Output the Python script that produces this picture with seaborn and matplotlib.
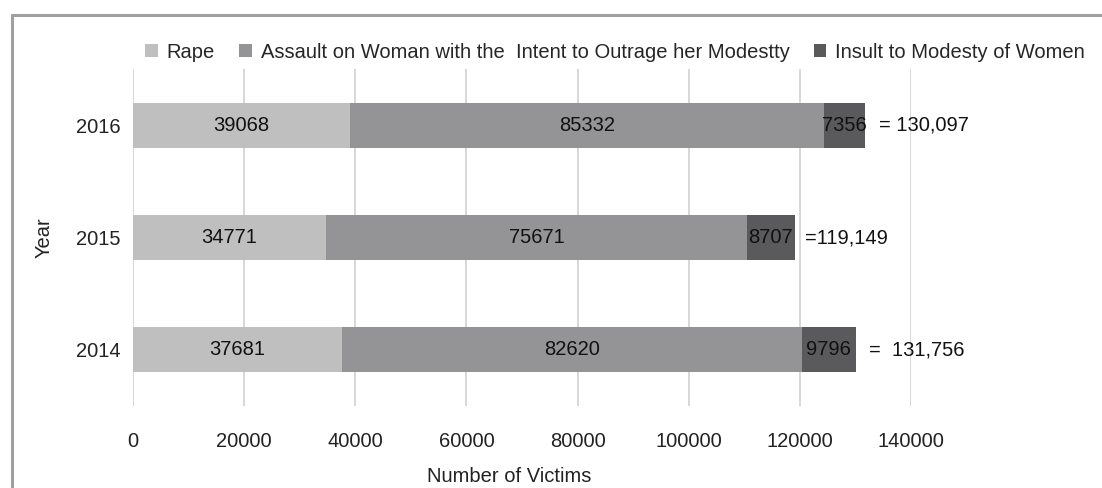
import matplotlib
matplotlib.use("Agg")
import matplotlib.pyplot as plt
from matplotlib.patches import Patch
from matplotlib.lines import Line2D
import seaborn as sns
import pandas as pd
import numpy as np

years = ["2016", "2015", "2014"]
rape = [39068, 34771, 37681]
assault = [85332, 75671, 82620]
insult = [7356, 8707, 9796]
total_labels = ["= 130,097", "=119,149", "=  131,756"]
total_label_x = [134300, 121000, 132500]
series_names = ["Rape", "Assault on Woman with the  Intent to Outrage her Modestty",
                "Insult to Modesty of Women"]
colors = ["#bfbfbf", "#949496", "#5a5a5c"]

sns.set_theme(style="white")
plt.rcParams['font.family'] = ['Liberation Sans', 'DejaVu Sans']
FS = 14.5

df = pd.DataFrame({"Year": years, "Rape": rape, "Assault": assault, "Insult": insult})
df["c1"] = df["Rape"]
df["c2"] = df["Rape"] + df["Assault"]
df["c3"] = df["c2"] + df["Insult"]

fig = plt.figure(figsize=(11.02, 4.88), dpi=100)
ax = fig.add_axes([133/1102, 1 - 406/488, (911 - 133)/1102, (406 - 69)/488])

# stacked via cumulative overdraw
for col, c in zip(["c3", "c2", "c1"], colors[::-1]):
    sns.barplot(data=df, x=col, y="Year", order=years, orient="h", color=c,
                width=0.4, saturation=1, ax=ax, edgecolor="none", linewidth=0, zorder=3)

ax.set_xlim(0, 140000)
ax.set_ylim(2.5, -0.5)
ax.set_xticks(np.arange(0, 140001, 20000))
ax.set_xticklabels([str(v) for v in range(0, 140001, 20000)], fontsize=FS, color="#222222")
ax.set_yticks(range(3))
ax.set_yticklabels(years, fontsize=FS, color="#222222")
ax.tick_params(axis="x", length=0, pad=19)
ax.tick_params(axis="y", length=0, pad=9)
ax.grid(axis="x", color="#d4d4d4", linewidth=1.3, zorder=0)
ax.set_axisbelow(True)
for s in ax.spines.values():
    s.set_visible(False)

ax.set_xlabel("Number of Victims", fontsize=FS, color="#222222")
ax.xaxis.set_label_coords((509 - 133)/(911 - 133), -0.18)
ax.set_ylabel("Year", fontsize=FS, color="#222222")
ax.yaxis.set_label_coords(-(133 - 54)/(911 - 133), 0.5)

# segment labels
for i in range(3):
    ax.text(rape[i]/2, i, str(rape[i]), ha="center", va="center", fontsize=FS, color="#111111", zorder=5)
    ax.text(rape[i] + assault[i]/2, i, str(assault[i]), ha="center", va="center", fontsize=FS, color="#111111", zorder=5)
    ax.text(rape[i] + assault[i] + insult[i]/2, i, str(insult[i]), ha="center", va="center", fontsize=FS, color="#111111", zorder=5)
    ax.text(total_label_x[i], i, total_labels[i], ha="left", va="center", fontsize=FS,
            color="#111111", zorder=5, clip_on=False)

handles = [Patch(facecolor=c, edgecolor="none") for c in colors]
fig.legend(handles, series_names, loc="center", bbox_to_anchor=(615/1102, 1 - 52/488),
           ncol=3, frameon=False, fontsize=FS, handlelength=0.62, handleheight=0.62,
           handletextpad=0.45, columnspacing=1.2, borderaxespad=0)

# outer frame (left and top visible)
fig.add_artist(Line2D([11.5/1102, 11.5/1102], [0, 1 - 14.5/488], transform=fig.transFigure,
                      color="#a0a0a0", linewidth=2.2))
fig.add_artist(Line2D([11.5/1102, 1], [1 - 14.5/488, 1 - 14.5/488], transform=fig.transFigure,
                      color="#a0a0a0", linewidth=2.2))

fig.savefig("out.png", dpi=100)
